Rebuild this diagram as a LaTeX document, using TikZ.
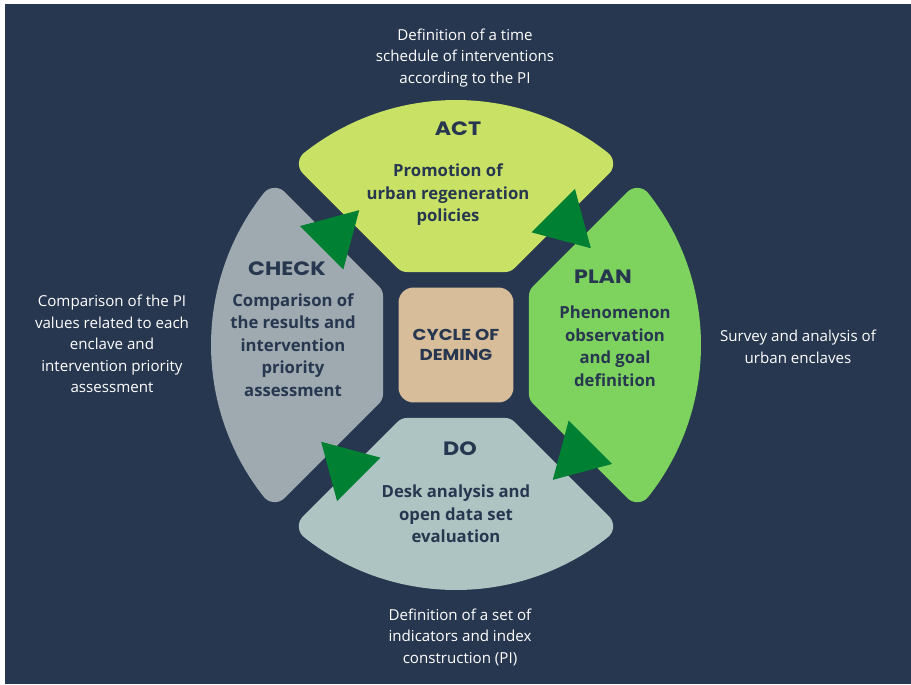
\documentclass[tikz,border=0pt]{standalone}
\usepackage{fontspec}
\setmainfont{Open Sans}
\newfontfamily\headfont{Poppins}[FakeStretch=1.15]
\usetikzlibrary{shapes.geometric}
\definecolor{pdcanavy}{RGB}{39,55,80}
\definecolor{actfill}{RGB}{201,226,101}
\definecolor{planfill}{RGB}{126,211,95}
\definecolor{dofill}{RGB}{174,196,194}
\definecolor{checkfill}{RGB}{158,170,176}
\definecolor{centrefill}{RGB}{216,189,154}
\definecolor{arrowgreen}{RGB}{0,128,50}

\begin{document}
\begin{tikzpicture}[
    x=0.02cm, y=0.02cm,
    segment/.style={line width=0.56cm, line join=round},
    phase/.style={font=\headfont\bfseries\fontsize{11}{13}\selectfont, text=pdcanavy},
    task/.style={font=\bfseries\fontsize{9.5}{12.8}\selectfont, text=pdcanavy, align=center},
    note/.style={font=\fontsize{8.6}{12.2}\selectfont, text=white, align=center},
    turn/.style={regular polygon, regular polygon sides=3, fill=arrowgreen, minimum size=1.42cm, inner sep=0pt, outer sep=0pt}
]

% Background
\fill[white] (-456,345) rectangle (455,-339);
\fill[pdcanavy] (-451,341) rectangle (455,-339);

% Segments
\foreach \r/\c in {0/actfill, 90/checkfill, 180/dofill, 270/planfill}
  \filldraw[segment, draw=\c, fill=\c] ({\r+60.7}:99.75) -- ({\r+51.7}:231)
    arc[start angle=\r+51.7, end angle=\r+128.3, radius=4.62cm] -- ({\r+119.3}:99.75) -- cycle;

% Arrows
\foreach \a/\t [count=\i] in {138/-45, 48/-135, -42/135, 228/45}
  \node[turn, shape border rotate=\t] (turn\i) at (\a:164) {};

% Centre
\node[rectangle, rounded corners=0.3cm, minimum size=2.3cm, fill=centrefill, text=pdcanavy, align=center,
  font=\headfont\bfseries\fontsize{9}{11.3}\selectfont] (deming) at (0,0) {CYCLE OF\\DEMING};

% Phases
\node[phase] (act) at (2,216) {ACT};
\node[task] (acttask) at (-8,150) {Promotion of\\urban regeneration\\policies};
\node[phase] (check) at (-169,76) {CHECK};
\node[task] (checktask) at (-163,0) {Comparison of\\the results and\\intervention\\priority\\assessment};
\node[phase] (plan) at (147,68) {PLAN};
\node[task] (plantask) at (159,-1) {Phenomenon\\observation\\and goal\\definition};
\node[phase] (do) at (4,-104) {DO};
\node[task] (dotask) at (0,-169) {Desk analysis and\\open data set\\evaluation};

% Notes
\node[note] (actnote) at (9,287) {Definition of a time\\schedule of interventions\\according to the PI};
\node[note] (checknote) at (-344,1) {Comparison of the PI\\values related to each\\enclave and\\intervention priority\\assessment};
\node[note] (plannote) at (342,-2) {Survey and analysis of\\urban enclaves};
\node[note] (donote) at (4,-292) {Definition of a set of\\indicators and index\\construction (PI)};

\end{tikzpicture}
\end{document}
